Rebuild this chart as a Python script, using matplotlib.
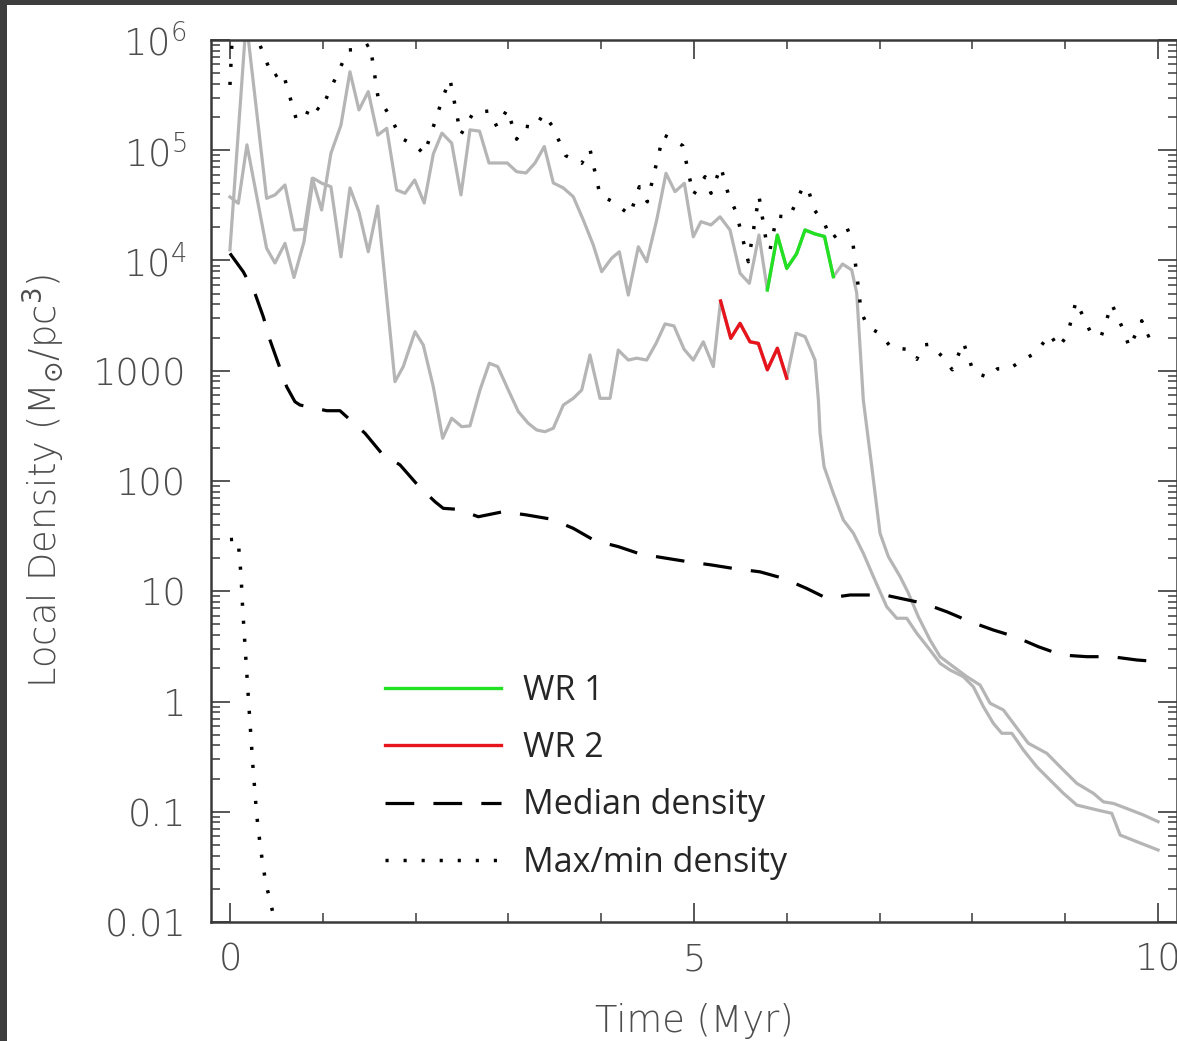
import matplotlib
matplotlib.use("Agg")
import matplotlib.pyplot as plt
from matplotlib.patches import Rectangle
from matplotlib.ticker import FixedLocator, LogLocator, MultipleLocator, NullFormatter

# === DATA ===
# time in Myr, local density in Msun/pc^3

# upper grey track (star that later becomes WR 1)
t_gray1 = [0.0, 0.175, 0.395, 0.485, 0.593, 0.693, 0.801, 0.887, 0.988, 1.088,
           1.196, 1.293, 1.390, 1.490, 1.592, 1.689, 1.796, 1.886, 1.990, 2.093,
           2.191, 2.284, 2.389, 2.489, 2.586, 2.689, 2.791, 2.891, 2.988, 3.089,
           3.190, 3.287, 3.387, 3.484, 3.592, 3.699, 3.807, 3.915, 4.005, 4.113,
           4.195, 4.292, 4.400, 4.490, 4.598, 4.698, 4.795, 4.896, 4.992, 5.075,
           5.183, 5.280, 5.388, 5.496, 5.596, 5.700, 5.790, 5.898, 5.999, 6.105,
           6.196, 6.304, 6.406, 6.501, 6.600, 6.699, 6.753, 6.824, 6.915, 7.004,
           7.094, 7.220, 7.309, 7.417, 7.543, 7.651, 7.794, 7.939, 8.082, 8.190,
           8.333, 8.441, 8.602, 8.801, 8.944, 9.124, 9.303, 9.411, 9.518, 9.663,
           9.842, 10.0]
rho_gray1 = [1.25e4, 1.5e6, 3.66e4, 3.93e4, 4.84e4, 1.89e4, 1.92e4, 5.57e4, 2.87e4, 9.38e4,
             1.69e5, 5.15e5, 2.32e5, 3.40e5, 1.37e5, 1.58e5, 4.36e4, 4.07e4, 5.37e4, 3.32e4,
             9.25e4, 1.43e5, 1.16e5, 3.93e4, 1.53e5, 1.49e5, 7.66e4, 7.66e4, 7.66e4, 6.39e4,
             6.22e4, 7.66e4, 1.08e5, 5.05e4, 4.55e4, 3.79e4, 2.33e4, 1.38e4, 7910, 1.05e4,
             1.20e4, 4860, 1.33e4, 9750, 2.33e4, 6.18e4, 4.21e4, 5.01e4, 1.64e4, 2.25e4,
             2.10e4, 2.49e4, 1.89e4, 7650, 6210, 1.70e4, 5400, 1.70e4, 8490, 1.15e4,
             1.89e4, 1.74e4, 1.65e4, 7130, 9290, 8200, 5070, 543, 135, 33.6,
             20.6, 13.6, 9.64, 5.87, 3.61, 2.55, 2.07, 1.68, 1.41, 0.964,
             0.838, 0.634, 0.418, 0.339, 0.256, 0.181, 0.147, 0.123, 0.119, 0.107,
             0.0935, 0.0813]

# lower grey track (star that later becomes WR 2)
t_gray2 = [0.0, 0.09, 0.183, 0.395, 0.485, 0.593, 0.690, 0.797, 0.898, 0.991,
           1.088, 1.196, 1.293, 1.390, 1.490, 1.592, 1.778, 1.867, 1.994, 2.083,
           2.191, 2.292, 2.389, 2.497, 2.586, 2.694, 2.794, 2.885, 2.999, 3.107,
           3.214, 3.305, 3.394, 3.484, 3.592, 3.699, 3.790, 3.879, 3.987, 4.095,
           4.184, 4.292, 4.383, 4.490, 4.591, 4.688, 4.784, 4.892, 4.992, 5.100,
           5.208, 5.286, 5.396, 5.496, 5.603, 5.693, 5.790, 5.898, 5.999, 6.099,
           6.196, 6.304, 6.340, 6.358, 6.401, 6.501, 6.609, 6.717, 6.824, 6.932,
           7.076, 7.184, 7.292, 7.400, 7.543, 7.651, 7.759, 7.902, 8.010, 8.118,
           8.225, 8.316, 8.424, 8.549, 8.693, 8.836, 8.980, 9.124, 9.339, 9.501,
           9.591, 9.771, 10.0]
rho_gray2 = [3.77e4, 3.30e4, 1.12e5, 1.29e4, 9490, 1.43e4, 7010, 1.47e4, 5.57e4, 5.01e4,
             4.67e4, 1.08e4, 4.55e4, 2.75e4, 1.20e4, 3.12e4, 796, 1090, 2260, 1710,
             716, 244, 371, 311, 316, 669, 1170, 1090, 669, 426,
             334, 290, 280, 301, 489, 562, 669, 1390, 562, 562,
             1540, 1250, 1300, 1250, 1770, 2660, 2550, 1570, 1250, 1830,
             1090, 4290, 1970, 2690, 1830, 1770, 1020, 1600, 855, 2190,
             2040, 1250, 543, 272, 135, 77.3, 44.3, 33.6, 22.1, 13.6,
             7.24, 5.69, 5.69, 4.16, 2.93, 2.22, 1.93, 1.68, 1.36, 0.897,
             0.634, 0.515, 0.515, 0.363, 0.256, 0.194, 0.147, 0.115, 0.104, 0.0968,
             0.0615, 0.0535, 0.045]

# Wolf-Rayet phases
t_wr1 = [5.790, 5.898, 5.999, 6.105, 6.196, 6.304, 6.406, 6.501]
rho_wr1 = [5400, 1.70e4, 8490, 1.15e4, 1.89e4, 1.74e4, 1.65e4, 7130]
t_wr2 = [5.286, 5.396, 5.496, 5.603, 5.693, 5.790, 5.898, 5.999]
rho_wr2 = [4290, 1970, 2690, 1830, 1770, 1020, 1600, 855]

# median density
t_med = [0.0, 0.143, 0.269, 0.359, 0.431, 0.520, 0.611, 0.700, 0.754, 1.042,
         1.185, 1.275, 1.455, 1.635, 1.832, 2.029, 2.209, 2.298, 2.460, 2.676,
         2.945, 3.197, 3.467, 3.699, 3.933, 4.184, 4.418, 4.688, 4.957, 5.191,
         5.424, 5.711, 5.962, 6.214, 6.430, 6.681, 6.897, 6.969, 7.220, 7.471,
         7.723, 7.974, 8.225, 8.459, 8.710, 8.962, 9.232, 9.501, 9.771, 10.0]
rho_med = [1.16e4, 7910, 5040, 3090, 1900, 1170, 716, 524, 489, 434,
           434, 371, 271, 178, 140, 90.6, 64.9, 56.5, 55.3, 47.4,
           52.7, 49.2, 45.0, 37.2, 28.7, 25.4, 21.8, 20.0, 18.4, 17.3,
           16.1, 15.0, 13.1, 10.6, 8.63, 9.25, 9.25, 9.58, 8.63, 7.78,
           6.52, 5.30, 4.45, 3.87, 3.14, 2.64, 2.55, 2.55, 2.38, 2.30]

# maximum density
t_max = [0.0, 0.04, 0.25, 0.323, 0.460, 0.568, 0.711, 0.801, 0.873, 0.977,
         1.275, 1.401, 1.509, 1.595, 1.689, 1.850, 2.004, 2.094, 2.299, 2.371,
         2.486, 2.622, 2.794, 2.877, 2.988, 3.089, 3.168, 3.287, 3.376, 3.473,
         3.617, 3.790, 3.879, 3.987, 4.124, 4.310, 4.411, 4.497, 4.669, 4.749,
         4.878, 4.992, 5.119, 5.183, 5.288, 5.377, 5.453, 5.585, 5.700, 5.790,
         5.819, 5.891, 6.027, 6.178, 6.243, 6.297, 6.404, 6.476, 6.645, 6.710,
         6.778, 6.800, 6.872, 7.015, 7.123, 7.281, 7.400, 7.464, 7.543, 7.669,
         7.783, 7.902, 8.010, 8.161, 8.268, 8.405, 8.538, 8.675, 8.836, 8.926,
         9.023, 9.116, 9.275, 9.386, 9.501, 9.634, 9.691, 9.824, 9.878, 9.957]
rho_max = [3.91e5, 2.0e6, 1.3e6, 9.0e5, 4.59e5, 5.16e5, 1.96e5, 1.88e5, 2.63e5, 2.28e5,
           8.11e5, 8.24e5, 9.2e5, 3.04e5, 2.27e5, 1.28e5, 1.09e5, 9.19e4, 3.10e5, 4.40e5,
           1.38e5, 2.19e5, 2.27e5, 1.63e5, 2.35e5, 1.26e5, 1.66e5, 1.60e5, 2.13e5, 1.66e5,
           8.93e4, 7.62e4, 1.02e5, 3.93e4, 3.41e4, 2.59e4, 4.67e4, 3.41e4, 1.38e5, 1.28e5,
           1.10e5, 3.93e4, 5.75e4, 4.07e4, 7.09e4, 3.79e4, 2.77e4, 9750, 3.84e4, 1.29e4,
           1.25e4, 2.53e4, 2.47e4, 4.74e4, 4.07e4, 2.87e4, 2.18e4, 1.56e4, 2.00e4, 1.48e4,
           5040, 3430, 2510, 2140, 1620, 1570, 1270, 1710, 1740, 1360,
           1020, 1810, 980, 873, 1040, 1050, 1250, 1440, 2140, 1620,
           2110, 4260, 2210, 2040, 4030, 2260, 1620, 2840, 2040, 2190]

# minimum density
t_min = [0.0, 0.09, 0.10, 0.118, 0.137, 0.172, 0.208, 0.245, 0.288, 0.331,
         0.385, 0.431, 0.474, 0.52]
rho_min = [29.4, 29.8, 21.2, 14.6, 6.96, 2.39, 0.813, 0.276, 0.0938, 0.0456,
           0.0227, 0.0158, 0.0110, 0.0075]

y_ticks = [0.01, 0.1, 1, 10, 100, 1000, 1e4, 1e5, 1e6]
y_labels = ["0.01", "0.1", "1", "10", "100", "1000",
            r"$\mathregular{10^{4}}$", r"$\mathregular{10^{5}}$", r"$\mathregular{10^{6}}$"]
x_ticks = [0, 5, 10]
x_labels = ["0", "5", "10"]
legend_labels = ["WR 1", "WR 2", "Median density", "Max/min density"]

# === STYLE ===
GRAY = "#b5b5b5"
GREEN = "#22e022"
RED = "#e8141c"
AXIS_COL = "#3a3a3a"
TEXT_COL = "#4d4d4d"
TICK_FONT = ["DejaVu Sans"]
FS = 26.5

fig = plt.figure(figsize=(11.77, 10.41), dpi=100)
ax = fig.add_axes([0.1796, 0.1143, 0.8201, 0.8473])

ax.plot(t_gray1, rho_gray1, color=GRAY, lw=2.3)
ax.plot(t_gray2, rho_gray2, color=GRAY, lw=2.3)
l_wr1, = ax.plot(t_wr1, rho_wr1, color=GREEN, lw=2.4)
l_wr2, = ax.plot(t_wr2, rho_wr2, color=RED, lw=2.4)
l_med, = ax.plot(t_med, rho_med, color="black", lw=2.3, dashes=(9, 6))
l_max, = ax.plot(t_max, rho_max, color="black", lw=2.5, ls=(0, (0.9, 4.3)))
ax.plot(t_min, rho_min, color="black", lw=2.5, ls=(0, (0.9, 4.3)))

ax.set_yscale("log")
ax.set_xlim(-0.2, 10.2)
ax.set_ylim(0.01, 1e6)

ax.yaxis.set_major_locator(FixedLocator(y_ticks))
ax.set_yticklabels(y_labels)
ax.yaxis.set_minor_locator(LogLocator(base=10, subs=range(2, 10), numticks=20))
ax.yaxis.set_minor_formatter(NullFormatter())
ax.xaxis.set_major_locator(FixedLocator(x_ticks))
ax.set_xticklabels(x_labels)
ax.xaxis.set_minor_locator(MultipleLocator(1))

ax.tick_params(which="both", direction="in", top=True, right=True,
               color=AXIS_COL, labelcolor=TEXT_COL, labelsize=FS)
ax.tick_params(which="major", length=13.5, width=1.2)
ax.tick_params(which="minor", length=6.5, width=1.1)
ax.tick_params(axis="x", which="major", pad=14)
ax.tick_params(axis="y", which="major", pad=18)
for lab in ax.get_xticklabels() + ax.get_yticklabels():
    lab.set_family(TICK_FONT)
    lab.set_fontweight("light")

for sp in ax.spines.values():
    sp.set_color(AXIS_COL)
    sp.set_linewidth(1.8)

ax.set_xlabel("Time (Myr)", fontsize=FS, color=TEXT_COL, family=TICK_FONT, fontweight="light")
ax.set_ylabel(r"Local Density (M$_{\odot}$/pc$^{3}$)", fontsize=FS, color=TEXT_COL,
              family=TICK_FONT, fontweight="light")
ax.xaxis.set_label_coords(0.5, -0.092)
ax.yaxis.set_label_coords(-0.150, 0.5)

ax.legend([l_wr1, l_wr2, l_med, l_max], legend_labels, loc="upper left",
          bbox_to_anchor=(0.18, 0.281), frameon=False,
          prop={"family": ["Open Sans", "DejaVu Sans"], "size": 24.5},
          labelcolor="#262626", handlelength=3.4, handletextpad=0.64,
          labelspacing=0.68, borderpad=0, borderaxespad=0)

# dark screenshot border on the left and top edges
fig.add_artist(Rectangle((0, 0), 7 / 1177, 1, transform=fig.transFigure,
                         color="#3d3d3d", lw=0))
fig.add_artist(Rectangle((0, 1 - 5 / 1041), 1, 5 / 1041, transform=fig.transFigure,
                         color="#3d3d3d", lw=0))

fig.savefig("out.png", dpi=100)
